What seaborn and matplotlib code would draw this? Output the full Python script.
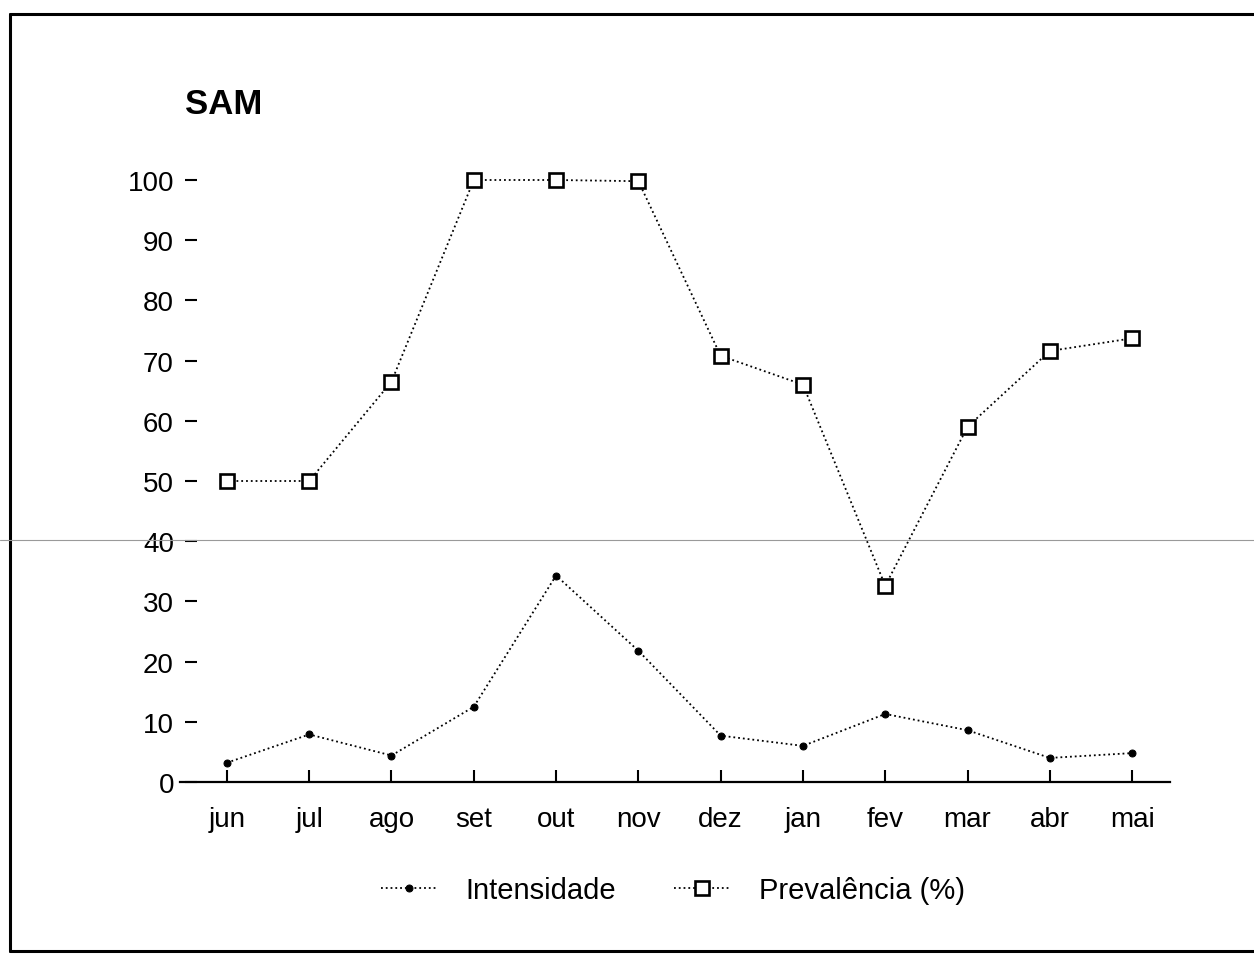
import numpy as np
import pandas as pd
import matplotlib
matplotlib.use("Agg")
import matplotlib.pyplot as plt
from matplotlib.lines import Line2D
import seaborn as sns

# ─── DATA ─────────────────────────────────────────────────────────────────────
MONTHS = ['jun', 'jul', 'ago', 'set', 'out', 'nov',
          'dez', 'jan', 'fev', 'mar', 'abr', 'mai']
INTENSIDADE = [3.2, 7.9, 4.4, 12.5, 34.3, 21.8, 7.7, 6.0, 11.3, 8.6, 4.0, 4.8]
PREVALENCIA = [50.0, 50.0, 66.5, 100.0, 100.0, 99.8, 70.8, 66.0, 32.6, 59.0, 71.6, 73.7]
Y_TICKS = [0, 10, 20, 30, 40, 50, 60, 70, 80, 90, 100]
TITLE = 'SAM'
LABEL_INT = 'Intensidade'
LABEL_PREV = 'Prevalência (%)'

# ─── STYLE ────────────────────────────────────────────────────────────────────
sns.set_style('white')
plt.rcParams['font.family'] = ['Liberation Sans', 'DejaVu Sans']
plt.rcParams['text.color'] = 'black'
plt.rcParams['axes.labelcolor'] = 'black'
plt.rcParams['xtick.color'] = 'black'
plt.rcParams['ytick.color'] = 'black'

W, H = 1254, 962
fig = plt.figure(figsize=(W / 100, H / 100), dpi=100)

def px(x0, y0, x1, y1):
    # pixel box (top-left origin) -> figure fraction rect
    return [x0 / W, 1 - y1 / H, (x1 - x0) / W, (y1 - y0) / H]

ax = fig.add_axes(px(180, 181, 1170, 783))

df = pd.DataFrame({'mes': MONTHS, 'int': INTENSIDADE, 'prev': PREVALENCIA})
x = np.arange(len(MONTHS))

sns.lineplot(x=x, y=df['int'], ax=ax, color='black', linestyle=':', linewidth=1.3,
             marker='o', markersize=5, markerfacecolor='black',
             markeredgecolor='black', clip_on=False, label=LABEL_INT)
sns.lineplot(x=x, y=df['prev'], ax=ax, color='black', linestyle=':', linewidth=1.3,
             marker='s', markersize=10.5, markerfacecolor='white',
             markeredgecolor='black', markeredgewidth=1.9, clip_on=False,
             label=LABEL_PREV)

ax.set_xlim(-0.57, 11.46)
ax.set_ylim(0, 100)
ax.set_xticks(x)
ax.set_xticklabels(MONTHS)
ax.set_yticks(Y_TICKS)
ax.set_xlabel('')
ax.set_ylabel('')

for s in ['top', 'right', 'left']:
    ax.spines[s].set_visible(False)
ax.spines['bottom'].set_linewidth(1.6)
ax.spines['bottom'].set_color('black')
ax.spines['left'].set_position(('axes', 0.0172))

ax.tick_params(axis='y', direction='out', length=8.6, width=1.5, pad=8,
               labelsize=20, colors='black', left=True)
ax.tick_params(axis='x', direction='in', length=8.6, width=1.5, pad=17,
               labelsize=20, colors='black', bottom=True)

ax.get_legend().remove()
handles, labels = ax.get_legend_handles_labels()
leg = fig.legend(handles, labels, loc='center', bbox_to_anchor=(673 / W, 1 - 891 / H),
                 ncol=2, frameon=False, fontsize=21, handlelength=1.9,
                 handletextpad=1.0, columnspacing=2.0)
for t in leg.get_texts():
    t.set_color('black')

fig.text(185 / W, 1 - 105 / H, TITLE, fontsize=25, fontweight='bold',
         ha='left', va='center', color='black')

# scan frame and the faint scanner line across the page
frame = dict(transform=fig.transFigure, color='black', linewidth=2.2)
fig.add_artist(Line2D([10 / W, 10 / W], [1 - 952 / H, 1 - 15 / H], **frame))
fig.add_artist(Line2D([10 / W, 1], [1 - 15 / H, 1 - 15 / H], **frame))
fig.add_artist(Line2D([10 / W, 1], [1 - 952 / H, 1 - 952 / H], **frame))
fig.add_artist(Line2D([0, 1], [1 - 541 / H, 1 - 541 / H],
                      transform=fig.transFigure, color='#9a9a9a', linewidth=0.8))

fig.savefig('out.png', dpi=100, facecolor='white')
